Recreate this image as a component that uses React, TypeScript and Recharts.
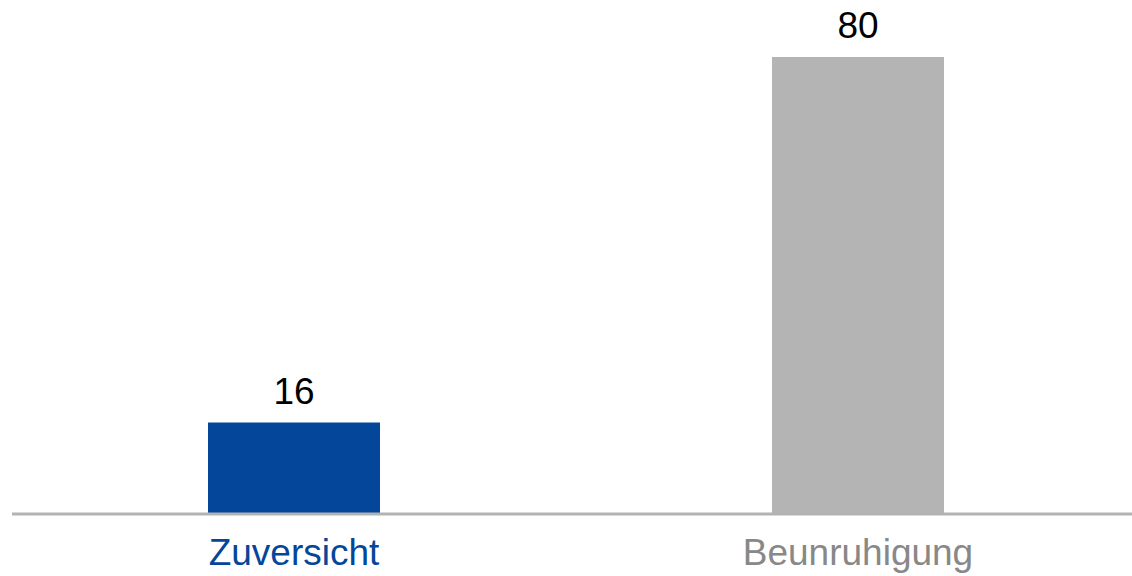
import * as React from "react";
import { BarChart, Bar, XAxis, YAxis, Cell, LabelList } from "recharts";

// Kategorien und Werte aus der Vorlage
const categories = ["Zuversicht", "Beunruhigung"];
const values = [16, 80];
const barColors = ["#03469A", "#B4B4B4"];
const labelColors = ["#03469A", "#888888"];

const data = categories.map((name, i) => ({ name, value: values[i] }));

const FONT = "'Liberation Sans', Arial, sans-serif";

function CategoryTick(props: any) {
  const { x, y, payload, index } = props;
  return (
    <text
      x={x}
      y={y}
      dy={51}
      textAnchor="middle"
      fontFamily={FONT}
      fontSize={37}
      fill={labelColors[index] ?? "#888888"}
    >
      {payload.value}
    </text>
  );
}

function ValueLabel(props: any) {
  const { x, y, width, value } = props;
  return (
    <text
      x={Number(x) + Number(width) / 2}
      y={Number(y) - 19}
      textAnchor="middle"
      fontFamily={FONT}
      fontSize={37}
      fill="#000000"
    >
      {value}
    </text>
  );
}

export default function App() {
  return (
    <div
      style={{
        position: "absolute",
        left: 0,
        top: 0,
        width: 1132,
        height: 576,
        overflow: "hidden",
        background: "#ffffff",
      }}
    >
      <BarChart
        width={1140}
        height={576}
        data={data}
        margin={{ top: 57, right: 0, bottom: 0, left: 12 }}
        barCategoryGap={0}
      >
        <YAxis hide domain={[0, 80]} />
        <XAxis
          dataKey="name"
          height={62}
          tickLine={false}
          tickSize={0}
          tickMargin={0}
          axisLine={{ stroke: "#B3B3B3", strokeWidth: 3 }}
          tick={<CategoryTick />}
          interval={0}
        />
        <Bar dataKey="value" barSize={172} isAnimationActive={false}>
          {data.map((d, i) => (
            <Cell key={d.name} fill={barColors[i]} />
          ))}
          <LabelList dataKey="value" content={<ValueLabel />} />
        </Bar>
      </BarChart>
    </div>
  );
}
